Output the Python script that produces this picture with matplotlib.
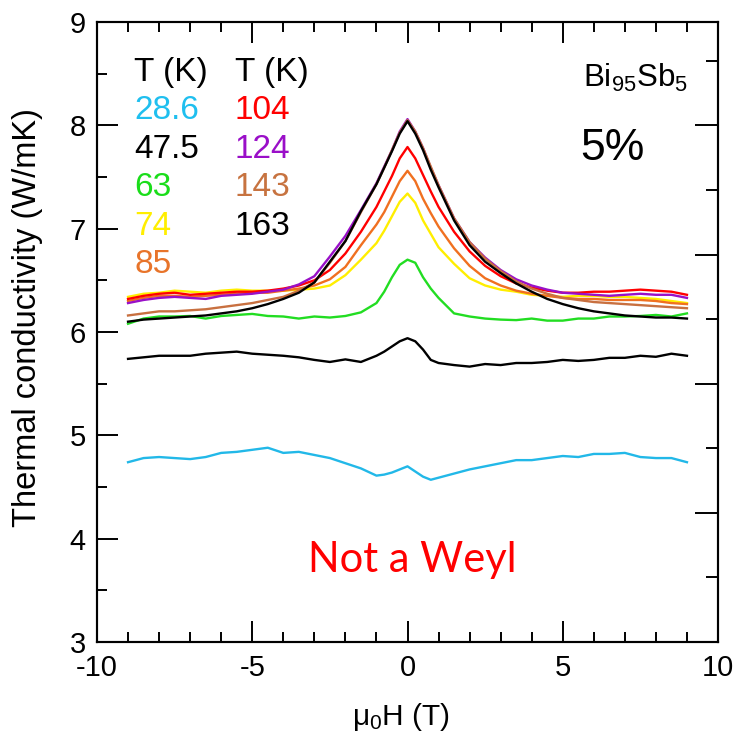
import matplotlib
matplotlib.use("Agg")
import matplotlib.pyplot as plt
from matplotlib.ticker import MultipleLocator, NullFormatter

plt.rcParams['font.family'] = ['Liberation Sans', 'DejaVu Sans']
plt.rcParams['mathtext.default'] = 'regular'
plt.rcParams['axes.unicode_minus'] = False

# field sweep (T)
field = [-9, -8.5, -8, -7.5, -7, -6.5, -6, -5.5, -5, -4.5, -4, -3.5, -3, -2.5, -2, -1.5, -1,
         -0.75, -0.5, -0.25, 0, 0.25, 0.5, 0.75,
         1, 1.5, 2, 2.5, 3, 3.5, 4, 4.5, 5, 5.5, 6, 6.5, 7, 7.5, 8, 8.5, 9]

# thermal conductivity (W/mK) at each temperature
k_28p6 = [4.74, 4.78, 4.79, 4.78, 4.77, 4.79, 4.83, 4.84, 4.86, 4.88, 4.83, 4.84, 4.81, 4.78, 4.73, 4.68, 4.61,
          4.62, 4.64, 4.67, 4.70, 4.65, 4.60, 4.57,
          4.59, 4.63, 4.67, 4.70, 4.73, 4.76, 4.76, 4.78, 4.80, 4.79, 4.82, 4.82, 4.83, 4.79, 4.78, 4.78, 4.74]
k_47p5 = [5.74, 5.755, 5.77, 5.77, 5.77, 5.79, 5.80, 5.81, 5.79, 5.78, 5.77, 5.755, 5.73, 5.71, 5.735, 5.71, 5.77,
          5.81, 5.86, 5.91, 5.94, 5.91, 5.83, 5.73,
          5.70, 5.68, 5.665, 5.69, 5.68, 5.70, 5.70, 5.71, 5.73, 5.72, 5.73, 5.75, 5.75, 5.77, 5.76, 5.79, 5.77]
k_63 = [6.08, 6.13, 6.15, 6.15, 6.155, 6.13, 6.155, 6.165, 6.175, 6.155, 6.15, 6.13, 6.15, 6.14, 6.155, 6.19, 6.28,
        6.39, 6.53, 6.65, 6.70, 6.67, 6.53, 6.42,
        6.33, 6.18, 6.15, 6.13, 6.12, 6.115, 6.13, 6.11, 6.11, 6.13, 6.13, 6.15, 6.15, 6.155, 6.165, 6.15, 6.18]
k_74 = [6.34, 6.37, 6.38, 6.40, 6.39, 6.38, 6.40, 6.41, 6.40, 6.40, 6.40, 6.41, 6.42, 6.45, 6.55, 6.70, 6.86,
        6.98, 7.12, 7.26, 7.34, 7.25, 7.08, 6.95,
        6.82, 6.66, 6.52, 6.45, 6.41, 6.39, 6.36, 6.35, 6.34, 6.35, 6.35, 6.34, 6.34, 6.33, 6.32, 6.30, 6.28]
k_85 = [6.30, 6.33, 6.35, 6.35, 6.34, 6.35, 6.36, 6.37, 6.38, 6.38, 6.40, 6.42, 6.45, 6.51, 6.63, 6.84, 7.04,
        7.16, 7.31, 7.46, 7.56, 7.46, 7.29, 7.15,
        7.02, 6.81, 6.64, 6.52, 6.45, 6.40, 6.37, 6.35, 6.33, 6.32, 6.32, 6.31, 6.31, 6.31, 6.30, 6.28, 6.27]
k_104 = [6.32, 6.35, 6.37, 6.38, 6.36, 6.37, 6.38, 6.39, 6.39, 6.40, 6.42, 6.45, 6.50, 6.60, 6.76, 6.97, 7.21,
         7.36, 7.51, 7.68, 7.79, 7.68, 7.52, 7.36,
         7.21, 6.97, 6.78, 6.64, 6.54, 6.47, 6.43, 6.40, 6.38, 6.38, 6.39, 6.39, 6.40, 6.41, 6.40, 6.39, 6.36]
k_124 = [6.28, 6.31, 6.33, 6.34, 6.33, 6.32, 6.35, 6.36, 6.37, 6.39, 6.41, 6.46, 6.54, 6.73, 6.93, 7.18, 7.44,
         7.60, 7.76, 7.94, 8.06, 7.94, 7.78, 7.59,
         7.42, 7.10, 6.87, 6.72, 6.60, 6.51, 6.45, 6.41, 6.38, 6.37, 6.36, 6.35, 6.36, 6.37, 6.36, 6.36, 6.33]
k_143 = [6.16, 6.18, 6.20, 6.20, 6.21, 6.22, 6.24, 6.26, 6.28, 6.31, 6.34, 6.40, 6.48, 6.67, 6.88, 7.16, 7.43,
         7.59, 7.76, 7.93, 8.05, 7.94, 7.78, 7.60,
         7.42, 7.10, 6.87, 6.71, 6.59, 6.49, 6.42, 6.37, 6.33, 6.31, 6.29, 6.28, 6.27, 6.26, 6.25, 6.24, 6.23]
k_163 = [6.10, 6.12, 6.13, 6.14, 6.15, 6.16, 6.18, 6.20, 6.23, 6.27, 6.32, 6.38, 6.48, 6.68, 6.88, 7.17, 7.43,
         7.59, 7.75, 7.92, 8.04, 7.92, 7.76, 7.57,
         7.40, 7.08, 6.84, 6.68, 6.57, 6.47, 6.39, 6.32, 6.27, 6.23, 6.20, 6.18, 6.16, 6.15, 6.14, 6.14, 6.13]

temps = ["28.6", "47.5", "63", "74", "85", "104", "124", "143", "163"]
curves = [k_28p6, k_47p5, k_63, k_74, k_85, k_104, k_124, k_143, k_163]
line_colors = ["#22B8E8", "#000000", "#22DD22", "#FFEE00", "#F07020",
               "#FF0000", "#9910C8", "#C87040", "#000000"]
text_colors = ["#1FBFEF", "#000000", "#1ADD1A", "#FFEE00", "#E8742A",
               "#FF0000", "#9A0FC8", "#C77340", "#000000"]

fig = plt.figure(figsize=(7.39, 7.35), dpi=100)
ax = fig.add_axes([97 / 739, 1 - 642 / 735, 621 / 739, 620 / 735])

for k, c in zip(curves, line_colors):
    ax.plot(field, k, color=c, lw=1.7)

ax.set_xlim(-10, 10)
ax.set_ylim(3, 9)
ax.xaxis.set_major_locator(MultipleLocator(5))
ax.xaxis.set_minor_locator(MultipleLocator(1))
ax.yaxis.set_major_locator(MultipleLocator(1))
ax.yaxis.set_minor_locator(MultipleLocator(0.5))
ax.tick_params(which='both', direction='in', width=1.4, top=True, right=False,
               labelsize=21)
ax.tick_params(which='major', length=15)
ax.tick_params(which='minor', length=7.5)
ax.tick_params(axis='x', pad=9)
ax.tick_params(axis='y', pad=8)
for sp in ax.spines.values():
    sp.set_linewidth(1.5)

# right-hand scale with its own tick spacing
ax2 = ax.twinx()
ax2.set_ylim(0, 9.6)
ax2.yaxis.set_major_locator(MultipleLocator(2))
ax2.yaxis.set_minor_locator(MultipleLocator(1))
ax2.yaxis.set_major_formatter(NullFormatter())
ax2.tick_params(which='both', direction='in', width=1.4)
ax2.tick_params(which='major', length=16.5)
ax2.tick_params(which='minor', length=8.5)
for sp in ax2.spines.values():
    sp.set_linewidth(1.5)

fig.text(28 / 739, 1 - 317.5 / 735, "Thermal conductivity (W/mK)", rotation=90,
         ha='center', va='center', fontsize=23.5)
fig.text(401 / 739, 1 - 725 / 735, r"$\mu_0$H (T)", ha='center', va='baseline',
         fontsize=21.5)

# temperature key, two columns
col_x = [0.060, 0.222]
ax.text(col_x[0], 0.9048, "T (K)", transform=ax.transAxes, fontsize=24, va='baseline')
ax.text(col_x[1], 0.9048, "T (K)", transform=ax.transAxes, fontsize=24, va='baseline')
for i, (t, c) in enumerate(zip(temps, text_colors)):
    col, row = (0, i) if i < 5 else (1, i - 5)
    ax.text(col_x[col], 0.8435 - 0.0621 * row, t, color=c, transform=ax.transAxes,
            fontsize=24, va='baseline')

ax.text(0.7826, 0.8956, r"Bi$_{95}$Sb$_5$", transform=ax.transAxes, fontsize=22.5,
        va='baseline')
ax.text(0.779, 0.7774, "5%", transform=ax.transAxes, fontsize=32, va='baseline')
ax.text(0.508, 0.1129, "Not a Weyl", transform=ax.transAxes, fontsize=30,
        color='#FF0000', ha='center', va='baseline', family='Lato')

fig.savefig("out.png", dpi=100)
